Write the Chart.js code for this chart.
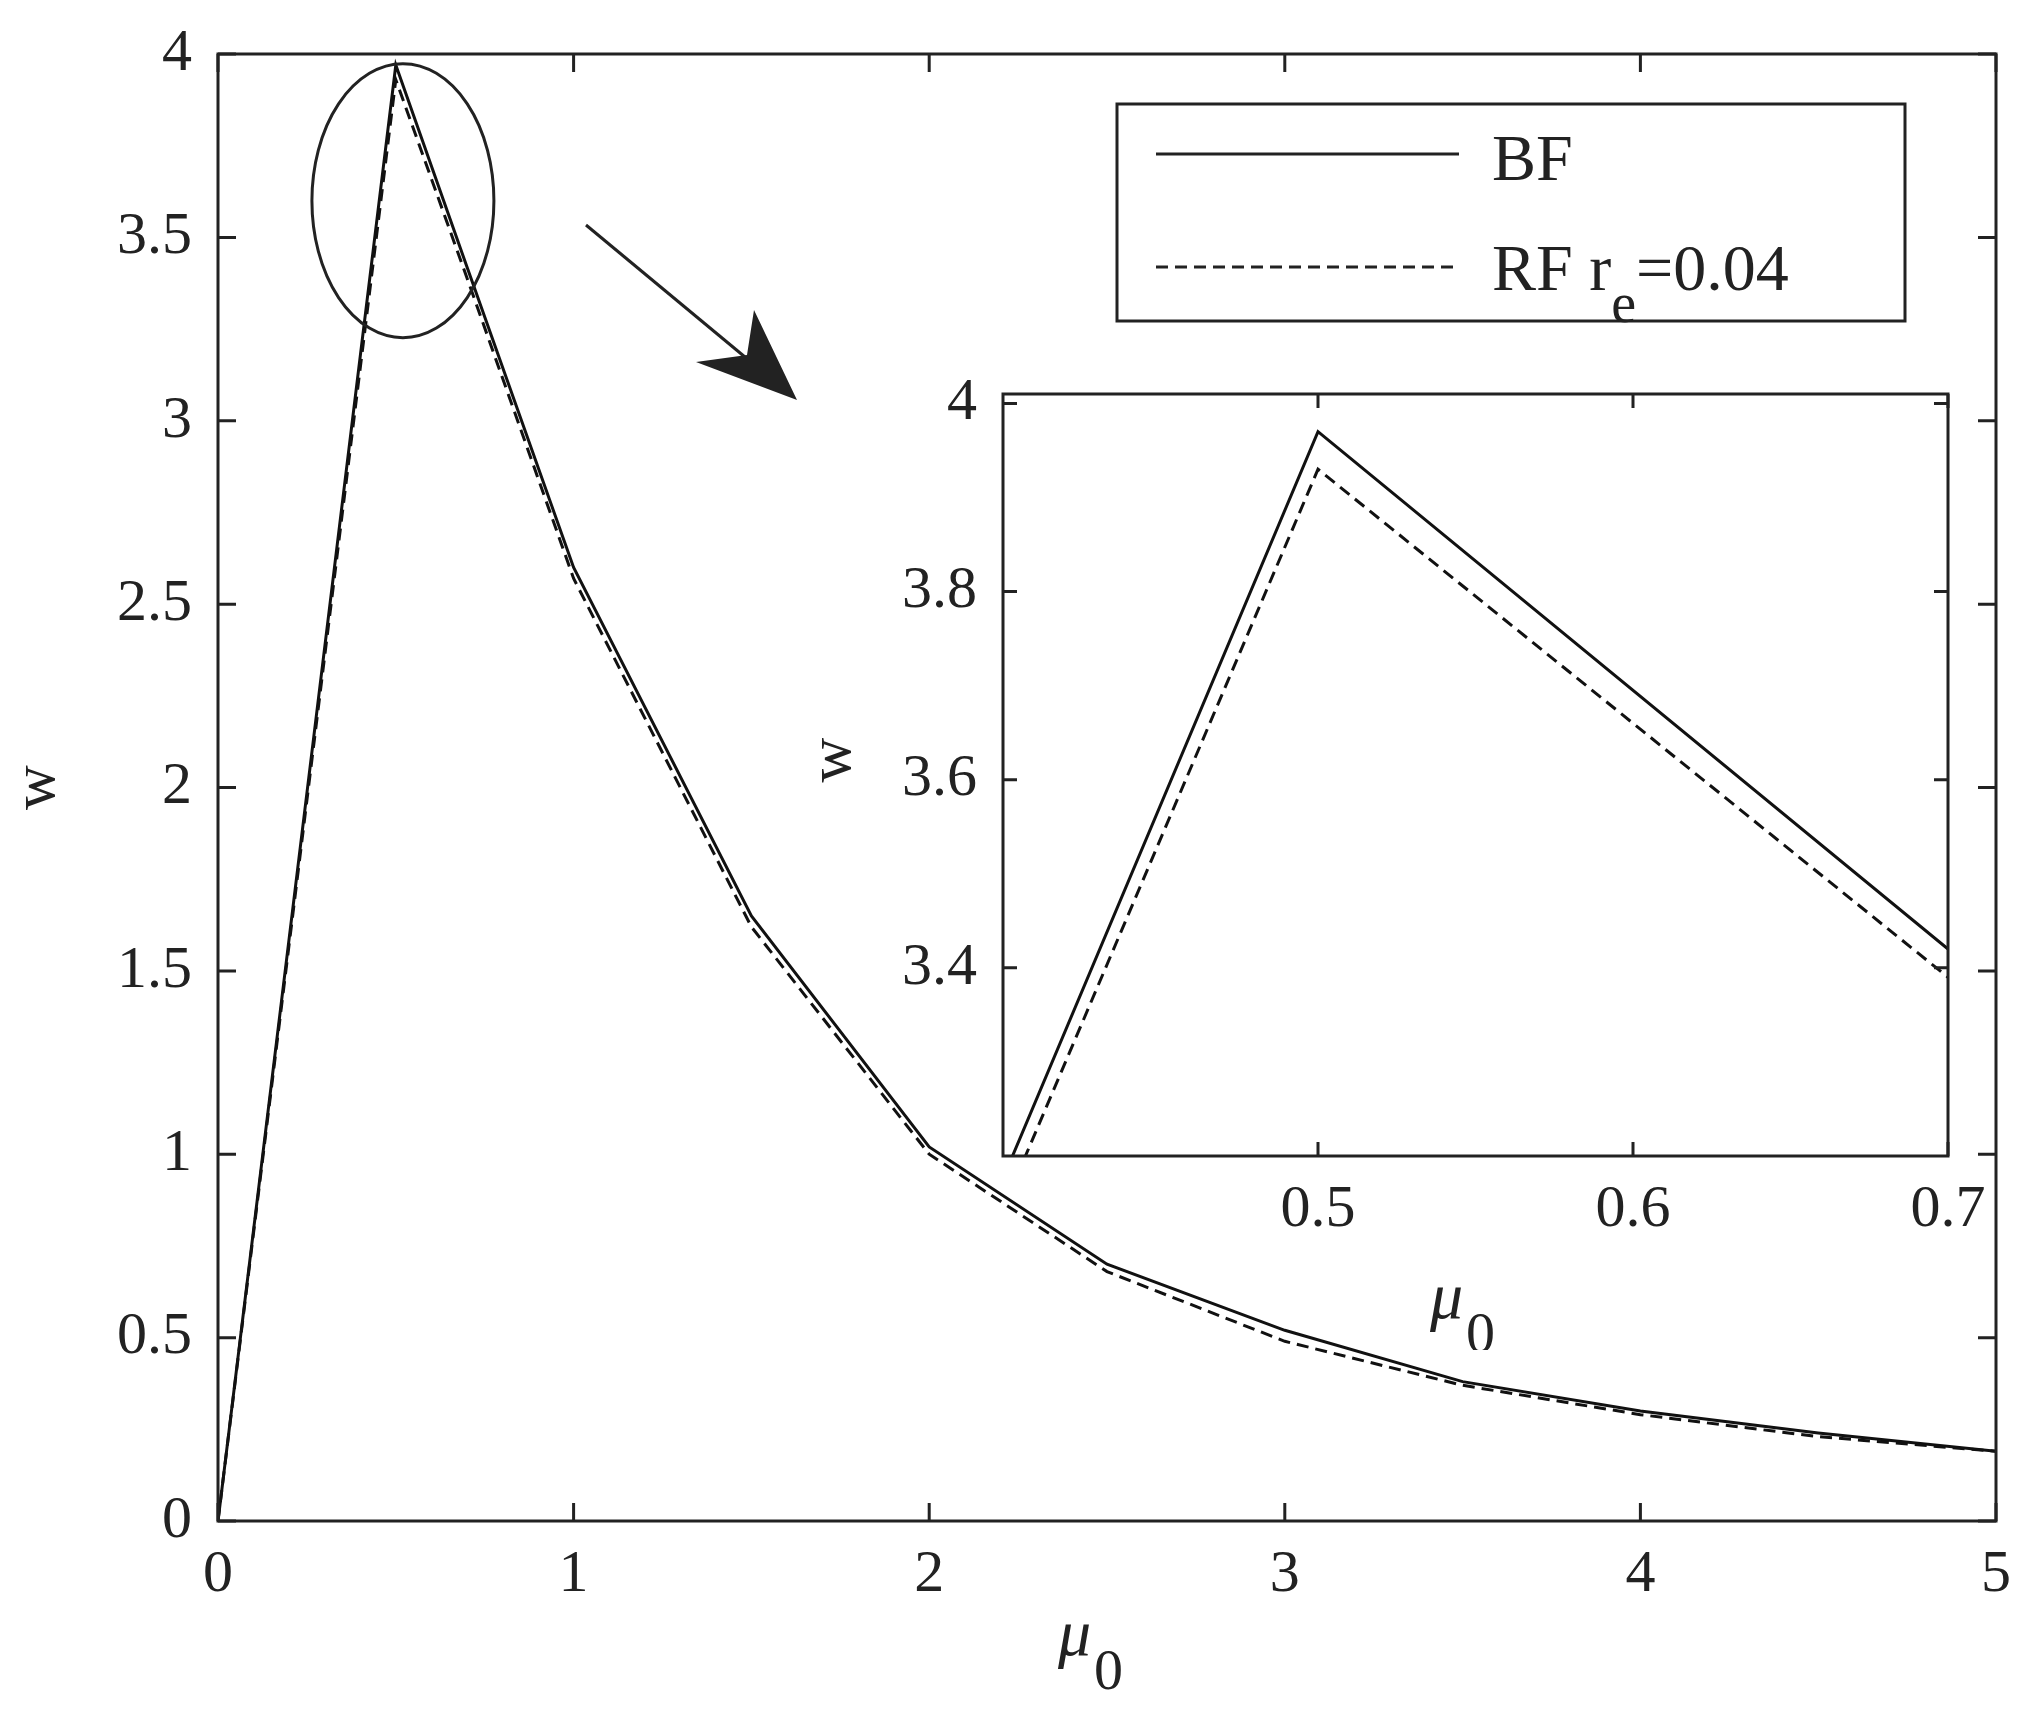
<!DOCTYPE html>
<html>
<head>
<meta charset="utf-8">
<script src="https://cdn.jsdelivr.net/npm/chart.js@4"></script>
<style>
body { margin: 0; background: #fff; }
#main { position: absolute; left: 0; top: 0; }
#inset { position: absolute; left: 800px; top: 340px; }
</style>
</head>
<body>
<canvas id="main" width="2033" height="1726"></canvas>
<canvas id="inset" width="1230" height="1010"></canvas>
<script>
const mu = [0, 0.5, 0.7, 1, 1.5, 2, 2.5, 3, 3.5, 4, 4.5, 5]
const bf = [0, 3.97, 3.42, 2.6, 1.65, 1.02, 0.7, 0.52, 0.38, 0.3, 0.24, 0.19]
const rf = [0, 3.93, 3.39, 2.57, 1.62, 1.0, 0.68, 0.49, 0.37, 0.29, 0.23, 0.19]
const mainXTicks = [0, 1, 2, 3, 4, 5]
const mainYTicks = [0, 0.5, 1, 1.5, 2, 2.5, 3, 3.5, 4]
const insetXTicks = [0.5, 0.6, 0.7]
const insetYTicks = [3.4, 3.6, 3.8, 4]

const FONT = "'Liberation Serif', 'DejaVu Serif', serif"

function pts(ys) { return mu.map((x, i) => ({ x: x, y: ys[i] })) }

function frame(chart, xt, yt, len) {
  // box and inward ticks on all four sides
  const c = chart.ctx, a = chart.chartArea
  const sx = chart.scales.x, sy = chart.scales.y
  c.save()
  c.strokeStyle = '#222'
  c.lineWidth = 3
  c.strokeRect(a.left, a.top, a.right - a.left, a.bottom - a.top)
  c.beginPath()
  xt.forEach(v => {
    const p = sx.getPixelForValue(v)
    c.moveTo(p, a.bottom); c.lineTo(p, a.bottom - len)
    c.moveTo(p, a.top); c.lineTo(p, a.top + len)
  })
  yt.forEach(v => {
    const p = sy.getPixelForValue(v)
    c.moveTo(a.left, p); c.lineTo(a.left + len, p)
    c.moveTo(a.right, p); c.lineTo(a.right - len, p)
  })
  c.stroke()
  c.restore()
}

function muLabel(c, x, y) {
  c.font = "italic 66px " + FONT
  c.textAlign = 'left'
  c.textBaseline = 'alphabetic'
  c.fillText('\u03bc', x, y)
  c.font = "58px " + FONT
  c.fillText('0', x + 36, y + 34)
}

function wLabel(c, x, y) {
  c.save()
  c.translate(x, y)
  c.rotate(-Math.PI / 2)
  c.font = "62px " + FONT
  c.textAlign = 'center'
  c.textBaseline = 'middle'
  c.fillText('w', 0, 0)
  c.restore()
}

function baseOptions(xmin, xmax, ymin, ymax, xt, yt, yw, xh, pad, fmt) {
  return {
    responsive: false,
    animation: false,
    layout: { padding: pad },
    plugins: { legend: { display: false }, tooltip: { enabled: false } },
    elements: { point: { radius: 0 }, line: { tension: 0 } },
    scales: {
      x: {
        type: 'linear', min: xmin, max: xmax,
        afterBuildTicks: s => { s.ticks = xt.map(v => ({ value: v })) },
        afterFit: s => { s.height = xh },
        grid: { display: false },
        border: { display: false },
        ticks: { color: '#222', font: { family: FONT, size: 60 }, padding: 10, maxRotation: 0, callback: v => fmt(v) }
      },
      y: {
        type: 'linear', min: ymin, max: ymax,
        afterBuildTicks: s => { s.ticks = yt.map(v => ({ value: v })) },
        afterFit: s => { s.width = yw },
        grid: { display: false },
        border: { display: false },
        ticks: { color: '#222', font: { family: FONT, size: 60 }, padding: 18, callback: v => fmt(v) }
      }
    }
  }
}

const mainOpts = baseOptions(0, 5, 0, 4, mainXTicks, mainYTicks, 208, 205,
  { left: 10, top: 43, right: 37, bottom: 0 }, v => String(v))

new Chart(document.getElementById('main'), {
  type: 'line',
  data: {
    datasets: [
      { data: pts(rf), borderColor: '#111', borderWidth: 3, borderDash: [12, 7] },
      { data: pts(bf), borderColor: '#111', borderWidth: 3 }
    ]
  },
  options: mainOpts,
  plugins: [{
    id: 'decor',
    afterDraw(chart) {
      const c = chart.ctx, a = chart.chartArea
      const sx = chart.scales.x, sy = chart.scales.y
      frame(chart, mainXTicks, mainYTicks, 18)
      c.save()
      c.fillStyle = '#222'; c.strokeStyle = '#222'
      // ellipse around the peak
      c.lineWidth = 3
      c.beginPath()
      c.ellipse(sx.getPixelForValue(0.52), sy.getPixelForValue(3.6), 91, 137, 0, 0, Math.PI * 2)
      c.stroke()
      // arrow toward the inset
      const x0 = 586, y0 = 225, x1 = 797, y1 = 400
      c.beginPath(); c.moveTo(x0, y0); c.lineTo(x1 - 40, y1 - 33); c.stroke()
      c.beginPath()
      c.moveTo(x1, y1)
      c.lineTo(696, 362)
      c.lineTo(747, 355)
      c.lineTo(754, 310)
      c.closePath(); c.fill()
      // legend
      c.fillStyle = '#fff'
      c.fillRect(1117, 104, 788, 217)
      c.strokeRect(1117, 104, 788, 217)
      c.beginPath(); c.moveTo(1156, 154); c.lineTo(1459, 154); c.stroke()
      c.setLineDash([12, 7])
      c.beginPath(); c.moveTo(1156, 267); c.lineTo(1459, 267); c.stroke()
      c.setLineDash([])
      c.fillStyle = '#222'
      c.font = "66px " + FONT
      c.textBaseline = 'alphabetic'; c.textAlign = 'left'
      c.fillText('BF', 1492, 180)
      c.fillText('RF r', 1492, 290)
      const w = c.measureText('RF r').width
      c.font = "56px " + FONT
      c.fillText('e', 1492 + w, 322)
      const we = c.measureText('e').width
      c.font = "66px " + FONT
      c.fillText('=0.04', 1492 + w + we, 290)
      // axis titles
      muLabel(c, 1058, 1655)
      wLabel(c, 38, (a.top + a.bottom) / 2)
      c.restore()
    }
  }]
})

const insetOpts = baseOptions(0.4, 0.7, 3.2, 4.01, insetXTicks, insetYTicks, 203, 194,
  { left: 0, top: 40, right: 82, bottom: 0 }, v => (v === 4 ? '4' : v.toFixed(1)))

new Chart(document.getElementById('inset'), {
  type: 'line',
  data: {
    datasets: [
      { data: pts(rf), borderColor: '#111', borderWidth: 3, borderDash: [12, 7] },
      { data: pts(bf), borderColor: '#111', borderWidth: 3 }
    ]
  },
  options: insetOpts,
  plugins: [{
    id: 'bg',
    beforeDatasetsDraw(chart) {
      const c = chart.ctx, a = chart.chartArea
      c.save(); c.fillStyle = '#fff'
      c.fillRect(a.left, a.top, a.right - a.left, a.bottom - a.top)
      c.restore()
      c.save(); c.beginPath()
      c.rect(a.left, a.top, a.right - a.left, a.bottom - a.top); c.clip()
    },
    afterDatasetsDraw(chart) { chart.ctx.restore() },
    afterDraw(chart) {
      const c = chart.ctx
      frame(chart, insetXTicks, insetYTicks, 14)
      c.save(); c.fillStyle = '#222'
      muLabel(c, 1430 - 800, 1318 - 340)
      wLabel(c, 834 - 800, 760 - 340)
      c.restore()
    }
  }]
})
</script>
</body>
</html>
